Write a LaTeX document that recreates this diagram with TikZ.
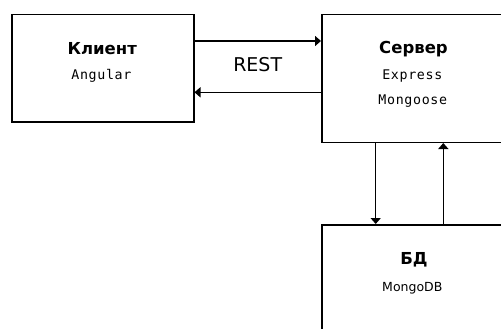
\documentclass[tikz,border=0pt]{standalone}
\usepackage{fontspec}
\setmainfont{DejaVu Sans}
\newfontfamily\codefont{DejaVu Sans Mono}[LetterSpace=5]
\usetikzlibrary{arrows.meta}

\begin{document}
\begin{tikzpicture}[x=1pt, y=-1pt, line width=1.5pt,
    box/.style = {draw, anchor=north west, minimum width=188pt, inner sep=0pt},
    title/.style = {font=\fontsize{16.5}{19}\selectfont\bfseries, inner sep=0pt, anchor=base},
    code/.style = {font=\fontsize{13.3}{15}\selectfont\codefont, inner sep=0pt, anchor=base},
    arr/.style = {-{Triangle[length=6pt, width=10pt]}}]
    \useasboundingbox (0,0) rectangle (501,329);
    \clip (0,0) rectangle (501,329);

    % boxes
    \node[box, minimum width=182pt, minimum height=107.5pt] (client) at (11,13.7) {};
    \node[box, minimum height=127.8pt] (server) at (321,13.7) {};
    \node[box, minimum height=140pt] (db) at (321,224) {};

    % texts
    \node[title] (clienttitle) at (102.2,55) {Клиент};
    \node[code] (angular) at (101.4,80) {Angular};
    \node[title] (servertitle) at (413.5,53.5) {Сервер};
    \node[code] (express) at (412.3,80) {Express};
    \node[code] (mongoose) at (412.8,104) {Mongoose};
    \node[title] (dbtitle) at (414,264) {БД};
    \node[font=\fontsize{12.5}{15}\selectfont, inner sep=0pt, anchor=base] (mongodb) at (412.3,291) {MongoDB};
    \node[font=\fontsize{19}{22}\selectfont, inner sep=0pt, anchor=base] (rest) at (257.7,71.7) {REST};

    % connectors
    \draw[arr] ([yshift=-27.3pt]client.north east) -- ([yshift=-27.3pt]client.north east -| server.west);
    \draw[arr] ([yshift=-78.6pt]server.north west) -- ([yshift=-78.6pt]server.north west -| client.east);
    \draw[arr] ([xshift=54.7pt]server.south west) -- ([xshift=54.7pt]server.south west |- db.north);
    \draw[arr] ([xshift=122.3pt]db.north west) -- ([xshift=122.3pt]db.north west |- server.south);
\end{tikzpicture}
\end{document}
